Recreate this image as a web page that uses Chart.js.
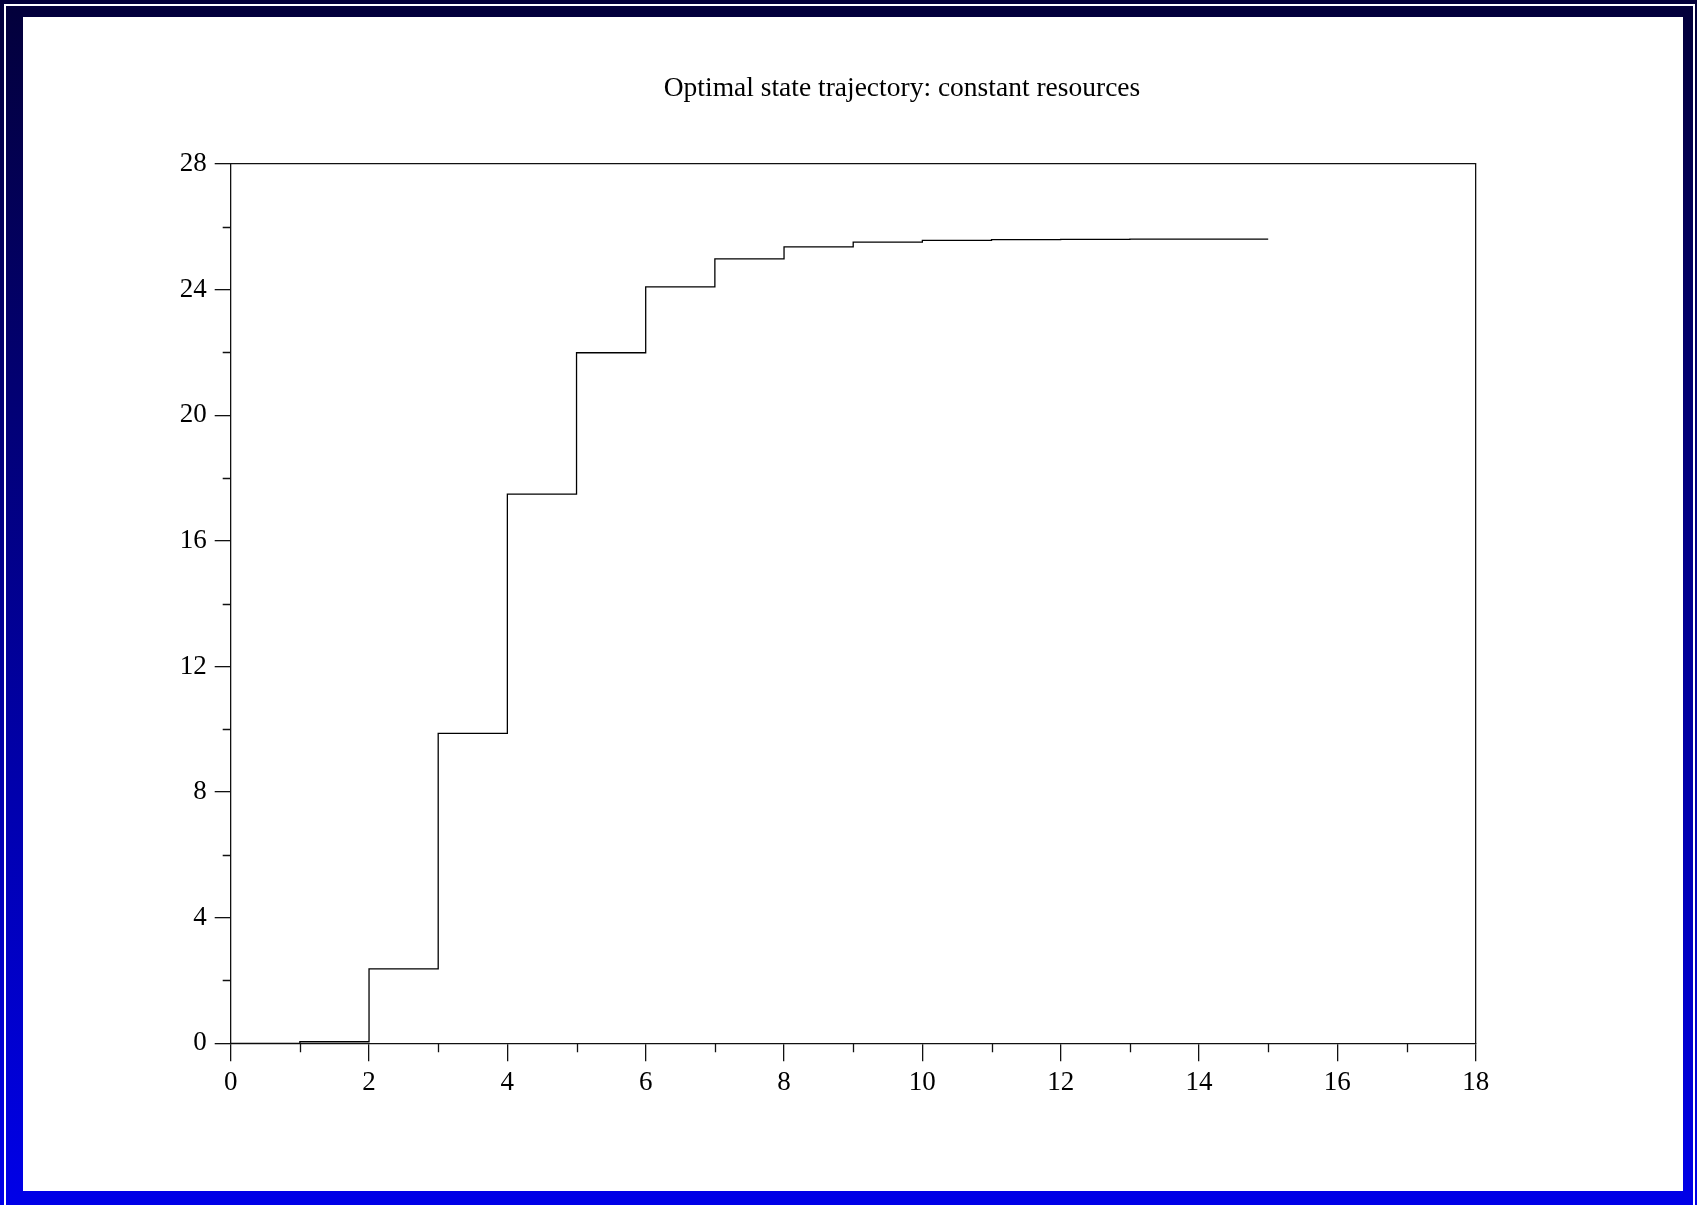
<!DOCTYPE html>
<html lang="en">
<head>
  <meta charset="UTF-8">
  <title>Optimal state trajectory: constant resources</title>
  <script src="https://cdn.jsdelivr.net/npm/chart.js"></script>
  <style>
    html, body { margin: 0; padding: 0; overflow: hidden; }
    body {
      width: 1697px; height: 1205px; position: relative;
      background: linear-gradient(to bottom, #03003a 0%, #0000e8 100%);
    }
    #rim {
      position: absolute; left: 4px; top: 4px;
      width: 1687px; height: 1210px;
      border: 2px solid #fff;
    }
    #panel {
      position: absolute; left: 23px; top: 17px;
      width: 1660px; height: 1174px; background: #fff;
    }
    #chart { position: absolute; left: 0; top: 0; }
  </style>
</head>
<body>
  <div id="rim"></div>
  <div id="panel"></div>
  <canvas id="chart" width="1697" height="1205"></canvas>

  <script>
    // stage index and optimal state value
    const stages = [0, 1, 2, 3, 4, 5, 6, 7, 8, 9, 10, 11, 12, 13, 14, 15];
    const stateValues = [0, 0.05, 2.37, 9.87, 17.49, 21.99, 24.09, 24.98,
                         25.36, 25.51, 25.57, 25.59, 25.60, 25.61, 25.61, 25.61];

    // axis ticks
    const xMin = 0, xMax = 18, xStep = 2;
    const yMin = 0, yMax = 28, yStep = 4;
    const xMinorTicks = [1, 3, 5, 7, 9, 11, 13, 15, 17];
    const yMinorTicks = [2, 6, 10, 14, 18, 22, 26];

    const fontFace = "'Liberation Serif', 'DejaVu Serif', serif";
    const ink = '#111';

    // short minor ticks, drawn through the scales
    const minorTicks = {
      id: 'minorTicks',
      afterDraw(chart) {
        const { ctx, chartArea, scales } = chart;
        ctx.save();
        ctx.strokeStyle = ink;
        ctx.lineWidth = 1.3;
        ctx.beginPath();
        yMinorTicks.forEach(v => {
          const py = Math.round(scales.y.getPixelForValue(v)) + 0.5;
          ctx.moveTo(chartArea.left - 8, py);
          ctx.lineTo(chartArea.left, py);
        });
        xMinorTicks.forEach(v => {
          const px = Math.round(scales.x.getPixelForValue(v)) + 0.5;
          ctx.moveTo(px, chartArea.bottom);
          ctx.lineTo(px, chartArea.bottom + 9);
        });
        ctx.stroke();
        ctx.restore();
      }
    };

    new Chart(document.getElementById('chart'), {
      type: 'line',
      data: {
        datasets: [{
          label: 'state',
          data: stages.map((s, i) => ({ x: s, y: stateValues[i] })),
          stepped: true,
          borderColor: '#000',
          borderWidth: 1.3,
          pointRadius: 0,
          fill: false
        }]
      },
      options: {
        responsive: false,
        animation: false,
        devicePixelRatio: 1,
        layout: { padding: { left: 107, right: 0, top: 0, bottom: 0 } },
        plugins: {
          legend: { display: false },
          tooltip: { enabled: false },
          title: {
            display: true,
            text: 'Optimal state trajectory: constant resources',
            color: '#000',
            font: { family: fontFace, size: 27.5, weight: 'normal', lineHeight: 1.2 },
            padding: { top: 72.4, bottom: 58.6 }
          }
        },
        scales: {
          x: {
            type: 'linear', position: 'bottom',
            min: xMin, max: xMax,
            afterFit: s => { s.height = 161.7; },
            border: { display: true, color: ink, width: 1.3 },
            grid: { drawOnChartArea: false, tickLength: 18, color: ink, lineWidth: 1.3 },
            ticks: {
              stepSize: xStep, autoSkip: false, maxRotation: 0, padding: 5.5,
              color: '#000', font: { family: fontFace, size: 27 }
            }
          },
          y: {
            type: 'linear', position: 'left',
            min: yMin, max: yMax,
            afterFit: s => { s.width = 123.7; },
            border: { display: true, color: ink, width: 1.3 },
            grid: { drawOnChartArea: false, tickLength: 16, color: ink, lineWidth: 1.3 },
            ticks: {
              stepSize: yStep, autoSkip: false, padding: 8,
              color: '#000', font: { family: fontFace, size: 27 }
            }
          },
          x2: {
            type: 'linear', position: 'top',
            min: xMin, max: xMax,
            afterFit: s => { s.height = 0; },
            border: { display: true, color: ink, width: 1.3 },
            grid: { display: false },
            ticks: { display: false }
          },
          y2: {
            type: 'linear', position: 'right',
            min: yMin, max: yMax,
            afterFit: s => { s.width = 221.3; },
            border: { display: true, color: ink, width: 1.3 },
            grid: { display: false },
            ticks: { display: false }
          }
        }
      },
      plugins: [minorTicks]
    });
  </script>
</body>
</html>
